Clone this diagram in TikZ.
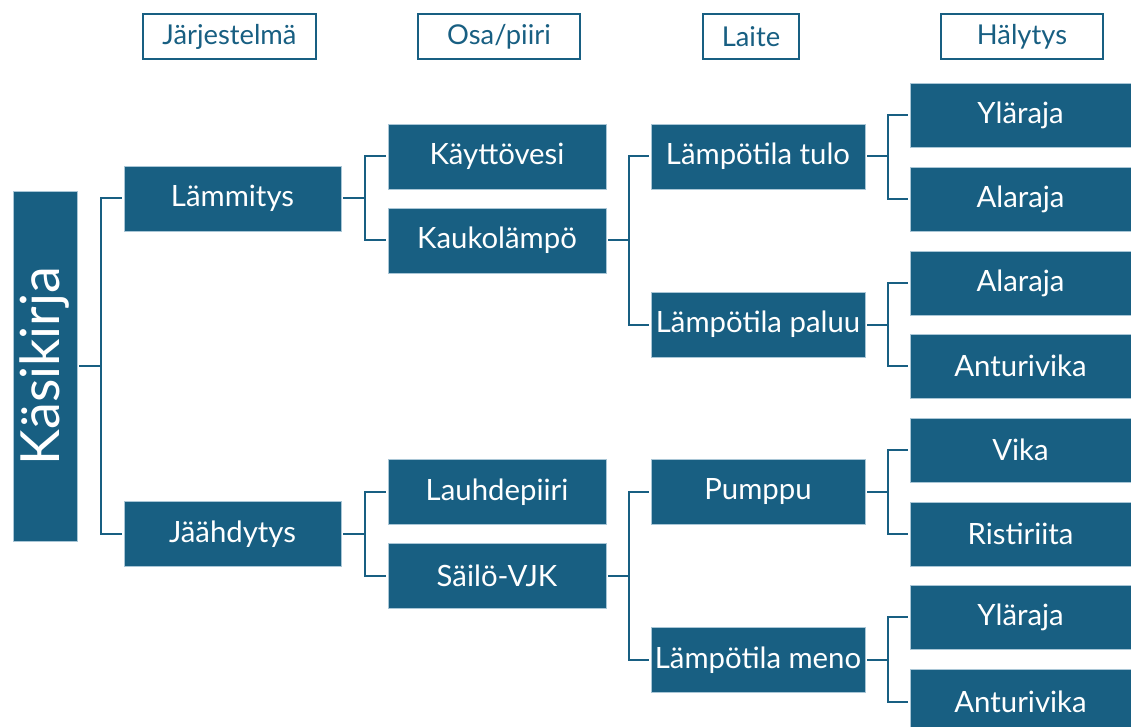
\documentclass[tikz,border=0pt]{standalone}
\usepackage{fontspec}
\setmainfont{Lato}
\usetikzlibrary{calc}
\definecolor{boxblue}{HTML}{185F82}
\definecolor{boxedge}{HTML}{A9C6D6}
\tikzset{
  box/.style={rectangle, fill=boxblue, draw=boxedge, line width=0.6pt, text=white,
    font=\fontsize{22}{26}\selectfont, inner sep=0pt, minimum height=48.75pt},
  lvlone/.style={box, minimum width=162.75pt},
  lvltwo/.style={box, minimum width=163.5pt},
  lvlthree/.style={box, minimum width=160.5pt},
  lvlfour/.style={box, minimum width=165.75pt, minimum height=48pt},
  hdr/.style={rectangle, draw=boxblue, line width=1.3pt, fill=white, text=boxblue,
    font=\fontsize{20.5}{24}\selectfont, inner sep=0pt, minimum height=33.75pt},
  conn/.style={draw=boxblue, line width=1.5pt, shorten <=1.5pt, shorten >=1.5pt,
    to path={-| ($(\tikztostart)!0.5!(\tikztotarget)$) |- (\tikztotarget)}}
}
\begin{document}
\begin{tikzpicture}[x=0.75pt,y=-0.75pt]
\clip (0,0) rectangle (1131,727);
\fill[white] (0,0) rectangle (1131,727);
% headers
\node[hdr, minimum width=129.75pt] (h1) at (229.5,36.5) {Järjestelmä};
\node[hdr, minimum width=121.5pt] (h2) at (499,36.5) {Osa/piiri};
\node[hdr, minimum width=72pt] (h3) at (751,36.5) {Laite};
\node[hdr, minimum width=121.5pt] (h4) at (1022,36.5) {Hälytys};
% root
\node[box, minimum width=48pt, minimum height=262.5pt] (root) at (45,366)
  {\rotatebox{90}{\fontsize{40.5}{46}\selectfont Käsikirja}};
% level 1
\node[lvlone] (lam) at (232.5,198.5) {Lämmitys};
\node[lvlone] (jaa) at (232.5,534) {Jäähdytys};
% level 2
\node[lvltwo] (kay) at (497,156.5) {Käyttövesi};
\node[lvltwo] (kau) at (497,240.5) {Kaukolämpö};
\node[lvltwo] (lau) at (497,492) {Lauhdepiiri};
\node[lvltwo] (sai) at (497,576) {Säilö-VJK};
% level 3
\node[lvlthree] (tulo) at (758,156.5) {Lämpötila tulo};
\node[lvlthree] (paluu) at (758,324.5) {Lämpötila paluu};
\node[lvlthree] (pump) at (758,492) {Pumppu};
\node[lvlthree] (meno) at (758,660) {Lämpötila meno};
% level 4
\node[lvlfour] (a1) at (1020.5,115) {Yläraja};
\node[lvlfour] (a2) at (1020.5,199) {Alaraja};
\node[lvlfour] (a3) at (1020.5,283) {Alaraja};
\node[lvlfour] (a4) at (1020.5,366) {Anturivika};
\node[lvlfour] (a5) at (1020.5,450) {Vika};
\node[lvlfour] (a6) at (1020.5,534) {Ristiriita};
\node[lvlfour] (a7) at (1020.5,617) {Yläraja};
\node[lvlfour] (a8) at (1020.5,701.5) {Anturivika};
% connectors
\draw[conn] (root.east) to (lam.west);
\draw[conn] (root.east) to (jaa.west);
\draw[conn] (lam.east) to (kay.west);
\draw[conn] (lam.east) to (kau.west);
\draw[conn] (jaa.east) to (lau.west);
\draw[conn] (jaa.east) to (sai.west);
\draw[conn] (kau.east) to (tulo.west);
\draw[conn] (kau.east) to (paluu.west);
\draw[conn] (sai.east) to (pump.west);
\draw[conn] (sai.east) to (meno.west);
\draw[conn] (tulo.east) to (a1.west);
\draw[conn] (tulo.east) to (a2.west);
\draw[conn] (paluu.east) to (a3.west);
\draw[conn] (paluu.east) to (a4.west);
\draw[conn] (pump.east) to (a5.west);
\draw[conn] (pump.east) to (a6.west);
\draw[conn] (meno.east) to (a7.west);
\draw[conn] (meno.east) to (a8.west);
\end{tikzpicture}
\end{document}
